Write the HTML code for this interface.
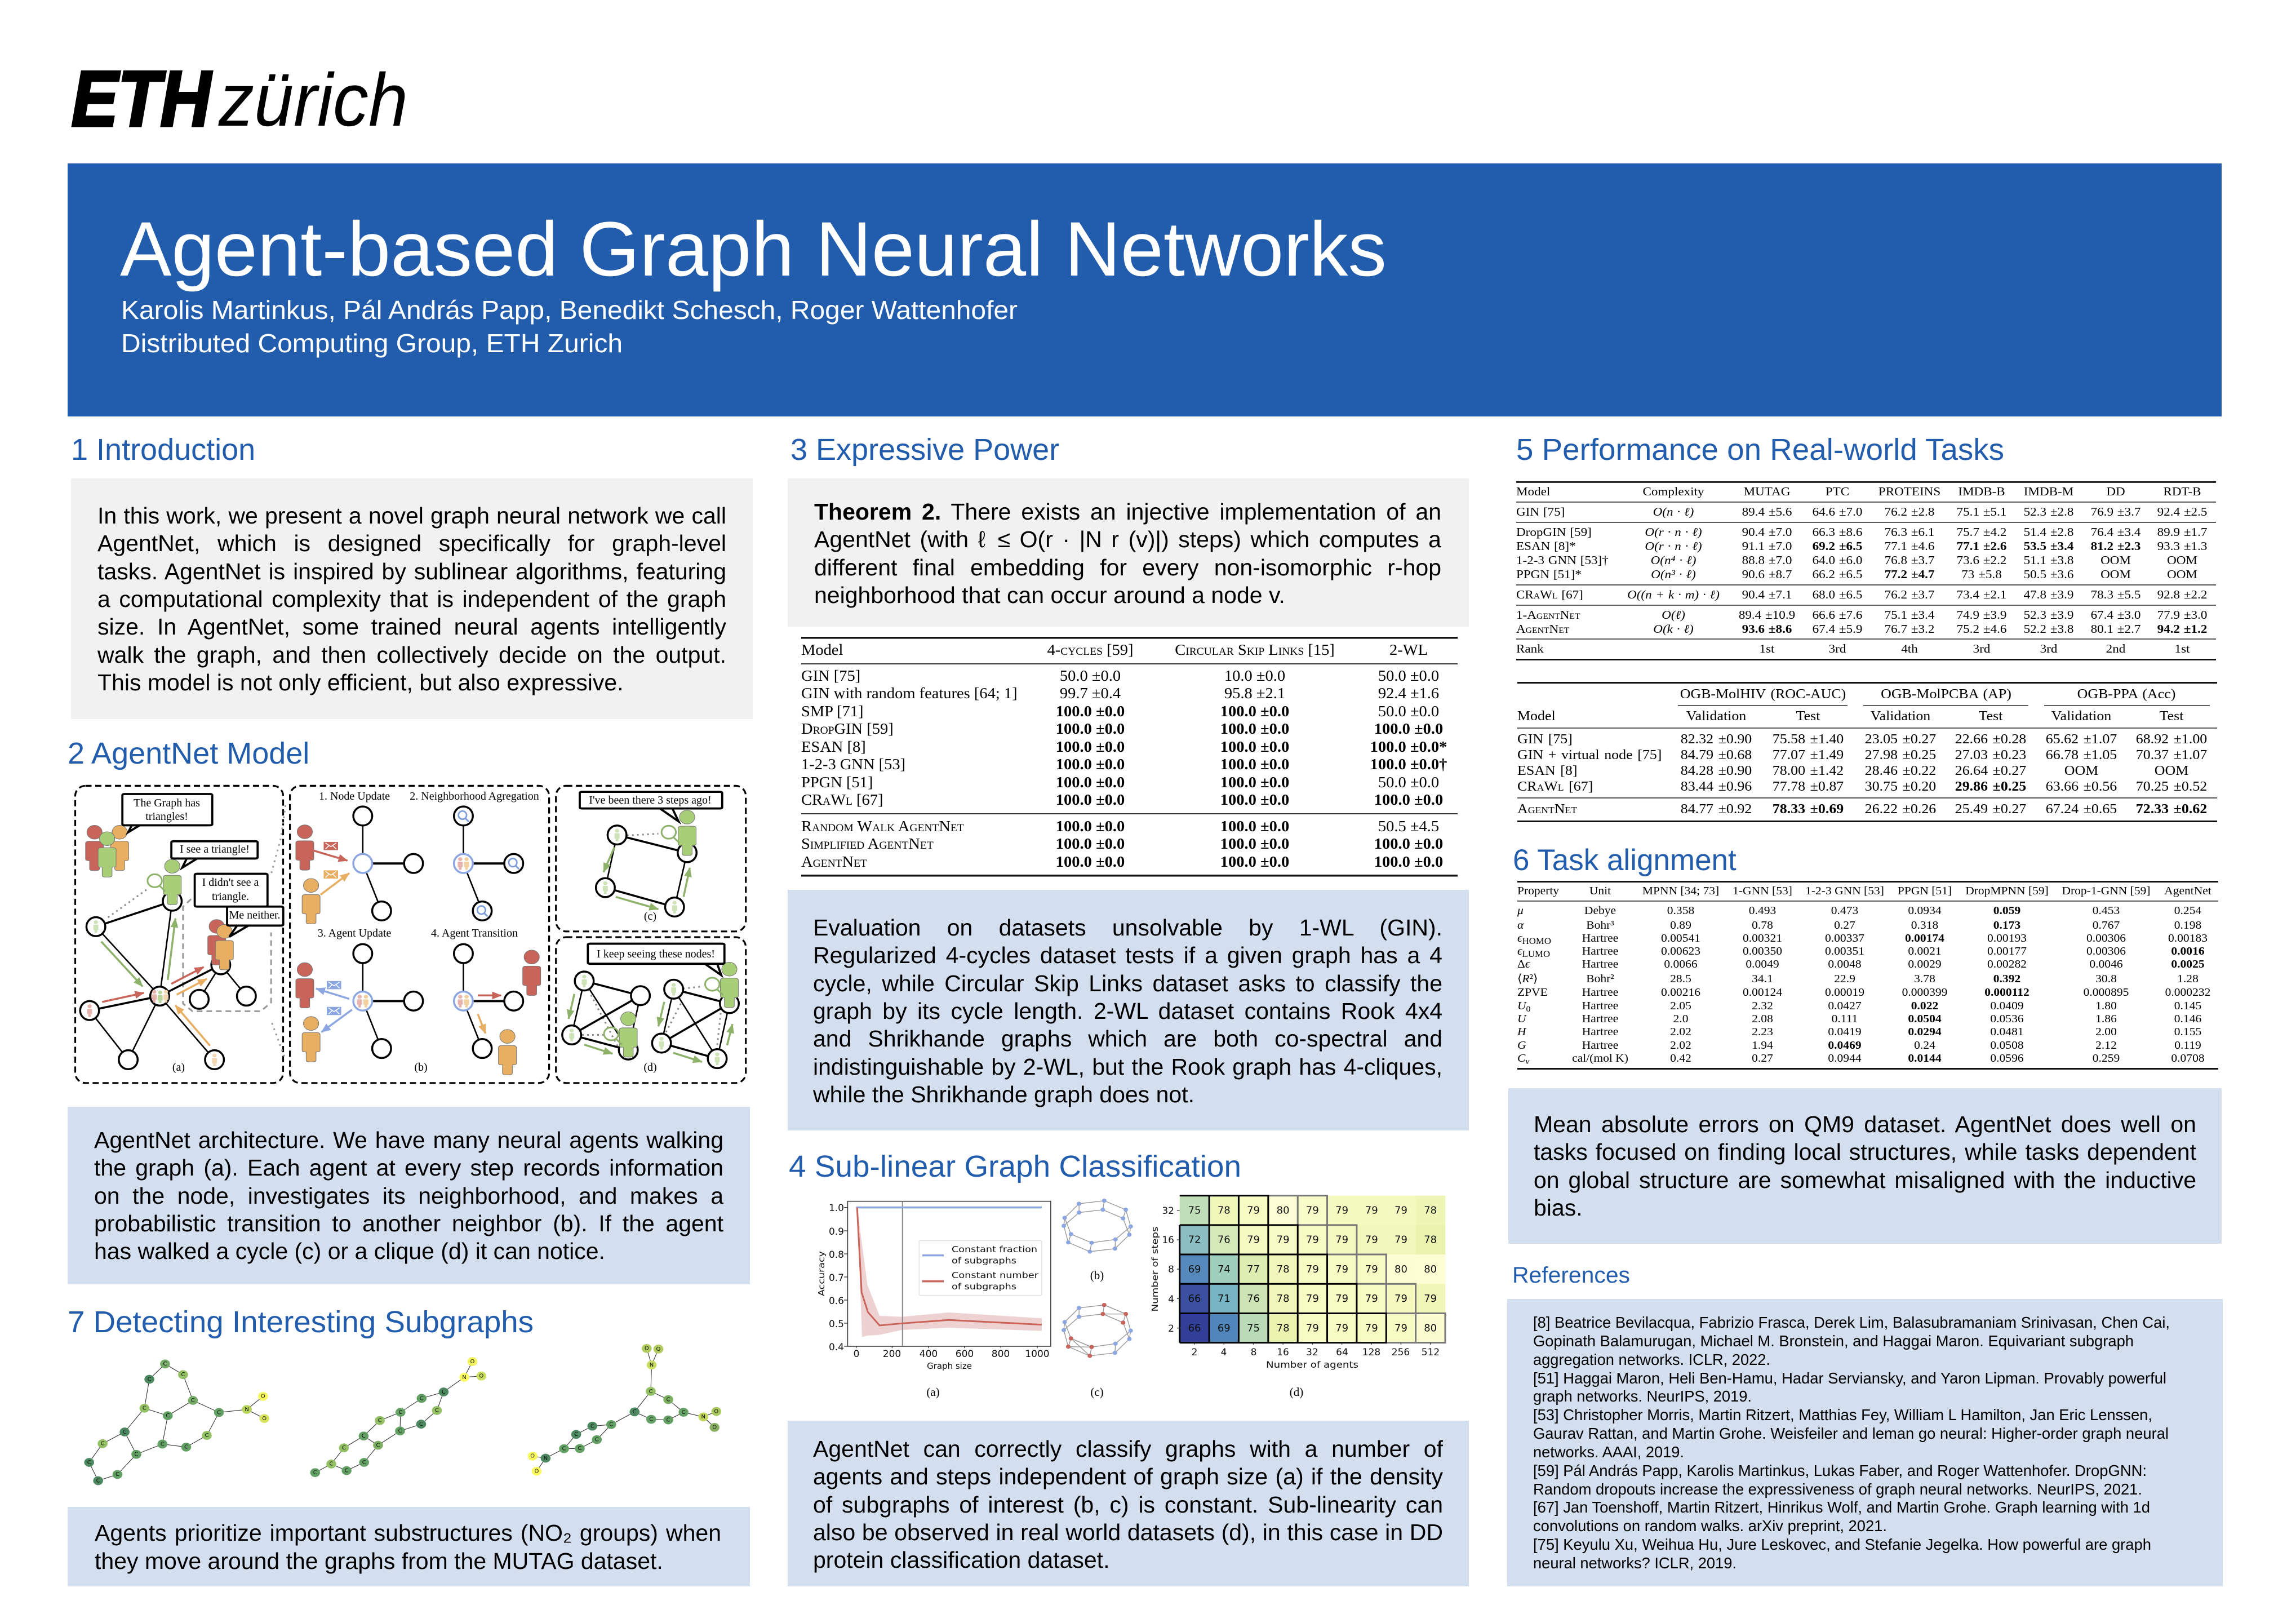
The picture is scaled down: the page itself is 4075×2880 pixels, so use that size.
<!DOCTYPE html>
<html><head><meta charset="utf-8"><title>Agent-based Graph Neural Networks</title>
<style>
html,body{margin:0;padding:0;background:#fff}
#p0{position:relative;width:4075px;height:2880px;overflow:hidden;background:#fff;font-family:"Liberation Sans",sans-serif}
.b{position:absolute}
.j{position:absolute;font-size:41px;line-height:50px;height:50px;text-align:justify;text-align-last:justify;color:#000}
.n{text-align-last:left}
svg{position:absolute;left:0;top:0}
svg *{vector-effect:non-scaling-stroke}
.h{font-family:"Liberation Sans",sans-serif;font-size:54px;fill:#225cad}
.t text{font-family:"Liberation Serif",serif;fill:#000}
.t .sc{font-variant:small-caps}
.t .bd{font-weight:bold}
.t .i{font-style:italic}
.f text{font-family:"Liberation Serif",serif;font-size:20px;fill:#000;text-anchor:middle}
.m text{font-family:"DejaVu Sans",sans-serif;font-size:10px;fill:#111;text-anchor:middle;transform-box:fill-box;transform-origin:center;transform:scale(1.254,2.8)}
.hm text{font-family:"DejaVu Sans",sans-serif;font-size:18px;fill:#111;text-anchor:middle;transform-box:fill-box;transform-origin:center;transform:scale(1.254,3)}
.pl text{font-family:"DejaVu Sans",sans-serif;font-size:17px;fill:#111}
.cap text{font-family:"Liberation Serif",serif;font-size:21px;text-anchor:middle;fill:#000}
</style></head><body><div id="p0">
<div class="b" style="left:120px;top:290px;width:3823px;height:449px;background:#225cad"></div>
<div class="b" style="left:126px;top:849px;width:1210px;height:427px;background:#f1f1f1"></div>
<div class="b" style="left:120px;top:1964px;width:1211px;height:315px;background:#d3deef"></div>
<div class="b" style="left:120px;top:2674px;width:1211px;height:141px;background:#d3deef"></div>
<div class="b" style="left:1398px;top:849px;width:1209px;height:263px;background:#f1f1f1"></div>
<div class="b" style="left:1398px;top:1579px;width:1209px;height:427px;background:#d3deef"></div>
<div class="b" style="left:1398px;top:2521px;width:1209px;height:294px;background:#d3deef"></div>
<div class="b" style="left:2677px;top:1931px;width:1266px;height:276px;background:#d3deef"></div>
<div class="b" style="left:2675px;top:2305px;width:1270px;height:510px;background:#d3deef"></div>

<div class="j" style="left:173px;top:890px;width:1116px">In this work, we present a novel graph neural network we call</div>
<div class="j" style="left:173px;top:939px;width:1116px">AgentNet, which is designed specifically for graph-level</div>
<div class="j" style="left:173px;top:989px;width:1116px">tasks. AgentNet is inspired by sublinear algorithms, featuring</div>
<div class="j" style="left:173px;top:1038px;width:1116px">a computational complexity that is independent of the graph</div>
<div class="j" style="left:173px;top:1087px;width:1116px">size. In AgentNet, some trained neural agents intelligently</div>
<div class="j" style="left:173px;top:1137px;width:1116px">walk the graph, and then collectively decide on the output.</div>
<div class="j n" style="left:173px;top:1186px;width:1116px">This model is not only efficient, but also expressive.</div>

<div class="j" style="left:167px;top:1998px;width:1117px">AgentNet architecture. We have many neural agents walking</div>
<div class="j" style="left:167px;top:2047px;width:1117px">the graph (a). Each agent at every step records information</div>
<div class="j" style="left:167px;top:2097px;width:1117px">on the node, investigates its neighborhood, and makes a</div>
<div class="j" style="left:167px;top:2146px;width:1117px">probabilistic transition to another neighbor (b). If the agent</div>
<div class="j n" style="left:167px;top:2195px;width:1117px">has walked a cycle (c) or a clique (d) it can notice.</div>

<div class="j" style="left:168px;top:2695px;width:1112px">Agents prioritize important substructures (NO₂ groups) when</div>
<div class="j n" style="left:168px;top:2745px;width:1112px">they move around the graphs from the MUTAG dataset.</div>

<div class="j" style="left:1445px;top:883px;width:1113px"><b>Theorem 2.</b> There exists an injective implementation of an</div>
<div class="j" style="left:1445px;top:932px;width:1113px">AgentNet (with ℓ ≤ O(r · |N r (v)|) steps) which computes a</div>
<div class="j" style="left:1445px;top:982px;width:1113px">different final embedding for every non-isomorphic r-hop</div>
<div class="j n" style="left:1445px;top:1031px;width:1113px">neighborhood that can occur around a node v.</div>

<div class="j" style="left:1443px;top:1621px;width:1117px">Evaluation on datasets unsolvable by 1-WL (GIN).</div>
<div class="j" style="left:1443px;top:1670px;width:1117px">Regularized 4-cycles dataset tests if a given graph has a 4</div>
<div class="j" style="left:1443px;top:1720px;width:1117px">cycle, while Circular Skip Links dataset asks to classify the</div>
<div class="j" style="left:1443px;top:1769px;width:1117px">graph by its cycle length. 2-WL dataset contains Rook 4x4</div>
<div class="j" style="left:1443px;top:1818px;width:1117px">and Shrikhande graphs which are both co-spectral and</div>
<div class="j" style="left:1443px;top:1868px;width:1117px">indistinguishable by 2-WL, but the Rook graph has 4-cliques,</div>
<div class="j n" style="left:1443px;top:1917px;width:1117px">while the Shrikhande graph does not.</div>

<div class="j" style="left:1443px;top:2546px;width:1118px">AgentNet can correctly classify graphs with a number of</div>
<div class="j" style="left:1443px;top:2595px;width:1118px">agents and steps independent of graph size (a) if the density</div>
<div class="j" style="left:1443px;top:2645px;width:1118px">of subgraphs of interest (b, c) is constant. Sub-linearity can</div>
<div class="j" style="left:1443px;top:2694px;width:1118px">also be observed in real world datasets (d), in this case in DD</div>
<div class="j n" style="left:1443px;top:2743px;width:1118px">protein classification dataset.</div>

<div class="j" style="left:2722px;top:1970px;width:1176px">Mean absolute errors on QM9 dataset. AgentNet does well on</div>
<div class="j" style="left:2722px;top:2019px;width:1176px">tasks focused on finding local structures, while tasks dependent</div>
<div class="j" style="left:2722px;top:2069px;width:1176px">on global structure are somewhat misaligned with the inductive</div>
<div class="j n" style="left:2722px;top:2118px;width:1176px">bias.</div>

<svg width="4075" height="2880" viewBox="0 0 4075 2880" xmlns="http://www.w3.org/2000/svg">
<defs>
<marker id="aG" markerUnits="userSpaceOnUse" markerWidth="18" markerHeight="16" refX="16" refY="8" orient="auto"><path d="M0 1L17 8L0 15Z" fill="#8fb26a"/></marker>
<marker id="aR" markerUnits="userSpaceOnUse" markerWidth="18" markerHeight="16" refX="16" refY="8" orient="auto"><path d="M0 1L17 8L0 15Z" fill="#c9645a"/></marker>
<marker id="aO" markerUnits="userSpaceOnUse" markerWidth="18" markerHeight="16" refX="16" refY="8" orient="auto"><path d="M0 1L17 8L0 15Z" fill="#e8ae62"/></marker>
<marker id="aB" markerUnits="userSpaceOnUse" markerWidth="18" markerHeight="16" refX="16" refY="8" orient="auto"><path d="M0 1L17 8L0 15Z" fill="#8ba6e0"/></marker>
<ellipse id="n" rx="21" ry="44" fill="#fff" stroke="#000" stroke-width="3.5"/>
<ellipse id="nb" rx="21" ry="44" fill="#fff" stroke="#8ba6e0" stroke-width="3.5"/>
<g id="p"><ellipse cx="0" cy="0" rx="17" ry="32"/><path d="M-20 52Q-20 42-12 42L12 42Q20 42 20 52L20 125Q20 132 13 132L11 132L11 170Q11 178 4 178L-4 178Q-11 178-11 170L-11 132L-13 132Q-20 132-20 125Z"/></g>
<g id="e"><rect width="32" height="38" fill="currentColor"/><path d="M4 5L16 22L28 5M4 33L12 17M28 33L20 17" stroke="#fff" stroke-width="1.5" fill="none"/></g>
<g id="g"><ellipse rx="9" ry="19" fill="none" stroke="#7f9fdc" stroke-width="2.8"/><path d="M6 14L14 30" stroke="#7f9fdc" stroke-width="3"/></g>
<g id="mg"><ellipse rx="16" ry="30" fill="none" stroke="#8fb26a" stroke-width="3"/><path d="M11 24L24 50" stroke="#8fb26a" stroke-width="3"/></g>
<g id="ring" fill="none" stroke="#999" stroke-width="1.4"><path d="M646 168L702 152L750 200L761 289L727 358L674 376L628 330L614 243ZM646 215L699 200L744 246L758 333L726 407L670 423L622 374L612 286ZM646 168L646 215M702 152L699 200M750 200L744 246M761 289L758 333M727 358L726 407M674 376L670 423M628 330L622 374M614 243L612 286"/><g fill="#8ba6e0" stroke="none"><ellipse cx="646" cy="168" rx="5" ry="11"/><ellipse cx="702" cy="152" rx="5" ry="11"/><ellipse cx="750" cy="200" rx="5" ry="11"/><ellipse cx="761" cy="289" rx="5" ry="11"/><ellipse cx="727" cy="358" rx="5" ry="11"/><ellipse cx="674" cy="376" rx="5" ry="11"/><ellipse cx="628" cy="330" rx="5" ry="11"/><ellipse cx="614" cy="243" rx="5" ry="11"/><ellipse cx="646" cy="215" rx="5" ry="11"/><ellipse cx="699" cy="200" rx="5" ry="11"/><ellipse cx="744" cy="246" rx="5" ry="11"/><ellipse cx="758" cy="333" rx="5" ry="11"/><ellipse cx="726" cy="407" rx="5" ry="11"/><ellipse cx="670" cy="423" rx="5" ry="11"/><ellipse cx="622" cy="374" rx="5" ry="11"/><ellipse cx="612" cy="286" rx="5" ry="11"/></g></g>
</defs>

<!-- logo -->
<text x="127" y="223" font-family="Liberation Sans" font-weight="bold" font-style="italic" font-size="139" textLength="247" lengthAdjust="spacingAndGlyphs" fill="#000" stroke="#000" stroke-width="5">ETH</text>
<text x="388" y="223" font-family="Liberation Sans" font-style="italic" font-size="133" textLength="336" lengthAdjust="spacingAndGlyphs" fill="#000">zürich</text>

<!-- banner -->
<text x="213" y="489" font-family="Liberation Sans" font-size="137" fill="#fff" textLength="2248" lengthAdjust="spacingAndGlyphs">Agent-based Graph Neural Networks</text>
<text x="215" y="566" font-family="Liberation Sans" font-size="46" fill="#fff" textLength="1591" lengthAdjust="spacingAndGlyphs">Karolis Martinkus, Pál András Papp, Benedikt Schesch, Roger Wattenhofer</text>
<text x="215" y="625" font-family="Liberation Sans" font-size="46" fill="#fff" textLength="890" lengthAdjust="spacingAndGlyphs">Distributed Computing Group, ETH Zurich</text>

<!-- headings -->
<text class="h" x="126" y="816">1 Introduction</text>
<text class="h" x="120" y="1355">2 AgentNet Model</text>
<text class="h" x="120" y="2364" textLength="827" lengthAdjust="spacingAndGlyphs">7 Detecting Interesting Subgraphs</text>
<text class="h" x="1403" y="816">3 Expressive Power</text>
<text class="h" x="1400" y="2088" textLength="803" lengthAdjust="spacingAndGlyphs">4 Sub-linear Graph Classification</text>
<text class="h" x="2691" y="816" textLength="866" lengthAdjust="spacingAndGlyphs">5 Performance on Real-world Tasks</text>
<text class="h" x="2685" y="1544" style="font-size:53px">6 Task alignment</text>
<text x="2684" y="2276" font-family="Liberation Sans" font-size="40" fill="#225cad" textLength="209" lengthAdjust="spacingAndGlyphs">References</text>

<!-- references -->
<g font-family="Liberation Sans" font-size="27.4" fill="#000">
<text x="2721" y="2356" textLength="1130" lengthAdjust="spacingAndGlyphs">[8] Beatrice Bevilacqua, Fabrizio Frasca, Derek Lim, Balasubramaniam Srinivasan, Chen Cai,</text>
<text x="2721" y="2389" textLength="1066" lengthAdjust="spacingAndGlyphs">Gopinath Balamurugan, Michael M. Bronstein, and Haggai Maron. Equivariant subgraph</text>
<text x="2721" y="2422" textLength="421" lengthAdjust="spacingAndGlyphs">aggregation networks. ICLR, 2022.</text>
<text x="2721" y="2455" textLength="1124" lengthAdjust="spacingAndGlyphs">[51] Haggai Maron, Heli Ben-Hamu, Hadar Serviansky, and Yaron Lipman. Provably powerful</text>
<text x="2721" y="2487" textLength="388" lengthAdjust="spacingAndGlyphs">graph networks. NeurIPS, 2019.</text>
<text x="2721" y="2520" textLength="1099" lengthAdjust="spacingAndGlyphs">[53] Christopher Morris, Martin Ritzert, Matthias Fey, William L Hamilton, Jan Eric Lenssen,</text>
<text x="2721" y="2553" textLength="1128" lengthAdjust="spacingAndGlyphs">Gaurav Rattan, and Martin Grohe. Weisfeiler and leman go neural: Higher-order graph neural</text>
<text x="2721" y="2586" textLength="268" lengthAdjust="spacingAndGlyphs">networks. AAAI, 2019.</text>
<text x="2721" y="2619" textLength="1089" lengthAdjust="spacingAndGlyphs">[59] Pál András Papp, Karolis Martinkus, Lukas Faber, and Roger Wattenhofer. DropGNN:</text>
<text x="2721" y="2652" textLength="1081" lengthAdjust="spacingAndGlyphs">Random dropouts increase the expressiveness of graph neural networks. NeurIPS, 2021.</text>
<text x="2721" y="2684" textLength="1095" lengthAdjust="spacingAndGlyphs">[67] Jan Toenshoff, Martin Ritzert, Hinrikus Wolf, and Martin Grohe. Graph learning with 1d</text>
<text x="2721" y="2717" textLength="628" lengthAdjust="spacingAndGlyphs">convolutions on random walks. arXiv preprint, 2021.</text>
<text x="2721" y="2750" textLength="1097" lengthAdjust="spacingAndGlyphs">[75] Keyulu Xu, Weihua Hu, Jure Leskovec, and Stefanie Jegelka. How powerful are graph</text>
<text x="2721" y="2783" textLength="361" lengthAdjust="spacingAndGlyphs">neural networks? ICLR, 2019.</text>
</g>

<!-- TABLE 1 -->
<g class="t" font-size="27">
<rect x="1422" y="1130" width="1165" height="3.5" fill="#111"/><rect x="1422" y="1177" width="1165" height="2" fill="#333"/><rect x="1422" y="1443" width="1165" height="2" fill="#333"/><rect x="1422" y="1552" width="1165" height="3.5" fill="#111"/>
<g transform="translate(1422,0) scale(1.055,1)">
<text y="1162">Model</text><text y="1208">GIN [75]</text><text y="1239">GIN with random features [64; 1]</text><text y="1271">SMP [71]</text><text y="1302" class="sc">DropGIN [59]</text><text y="1334">ESAN [8]</text><text y="1365">1-2-3 GNN [53]</text><text y="1397">PPGN [51]</text><text y="1428" class="sc">CRaWl [67]</text><text y="1475" class="sc">Random Walk AgentNet</text><text y="1506" class="sc">Simplified AgentNet</text><text y="1538" class="sc">AgentNet</text>
</g>
<g transform="translate(1935,0) scale(1.055,1)" text-anchor="middle">
<text y="1162" class="sc">4-cycles [59]</text><text y="1208">50.0 ±0.0</text><text y="1239">99.7 ±0.4</text><text y="1271" class="bd">100.0 ±0.0</text><text y="1302" class="bd">100.0 ±0.0</text><text y="1334" class="bd">100.0 ±0.0</text><text y="1365" class="bd">100.0 ±0.0</text><text y="1397" class="bd">100.0 ±0.0</text><text y="1428" class="bd">100.0 ±0.0</text><text y="1475" class="bd">100.0 ±0.0</text><text y="1506" class="bd">100.0 ±0.0</text><text y="1538" class="bd">100.0 ±0.0</text>
</g>
<g transform="translate(2227,0) scale(1.055,1)" text-anchor="middle">
<text y="1162" class="sc">Circular Skip Links [15]</text><text y="1208">10.0 ±0.0</text><text y="1239">95.8 ±2.1</text><text y="1271" class="bd">100.0 ±0.0</text><text y="1302" class="bd">100.0 ±0.0</text><text y="1334" class="bd">100.0 ±0.0</text><text y="1365" class="bd">100.0 ±0.0</text><text y="1397" class="bd">100.0 ±0.0</text><text y="1428" class="bd">100.0 ±0.0</text><text y="1475" class="bd">100.0 ±0.0</text><text y="1506" class="bd">100.0 ±0.0</text><text y="1538" class="bd">100.0 ±0.0</text>
</g>
<g transform="translate(2500,0) scale(1.055,1)" text-anchor="middle">
<text y="1162">2-WL</text><text y="1208">50.0 ±0.0</text><text y="1239">92.4 ±1.6</text><text y="1271">50.0 ±0.0</text><text y="1302" class="bd">100.0 ±0.0</text><text y="1334" class="bd">100.0 ±0.0*</text><text y="1365" class="bd">100.0 ±0.0†</text><text y="1397">50.0 ±0.0</text><text y="1428" class="bd">100.0 ±0.0</text><text y="1475">50.5 ±4.5</text><text y="1506" class="bd">100.0 ±0.0</text><text y="1538" class="bd">100.0 ±0.0</text>
</g>
</g>

<!-- TABLE 2 -->
<g class="t" font-size="21" word-spacing="1">
<rect x="2691" y="854" width="1242" height="2.8" fill="#111"/><rect x="2691" y="890" width="1242" height="1.8" fill="#444"/><rect x="2691" y="926" width="1242" height="1.8" fill="#444"/><rect x="2691" y="1037" width="1242" height="1.8" fill="#444"/><rect x="2691" y="1073" width="1242" height="1.8" fill="#444"/><rect x="2691" y="1133" width="1242" height="1.8" fill="#444"/><rect x="2691" y="1169" width="1242" height="2.8" fill="#111"/>
<g transform="translate(2691,0) scale(1.1,1)">
<text y="879">Model</text><text y="915">GIN [75]</text><text y="951">DropGIN [59]</text><text y="976">ESAN [8]*</text><text y="1001">1-2-3 GNN [53]†</text><text y="1026">PPGN [51]*</text><text y="1062" class="sc">CRaWl [67]</text><text y="1098" class="sc">1-AgentNet</text><text y="1123" class="sc">AgentNet</text><text y="1158">Rank</text>
</g>
<g transform="translate(2970,0) scale(1.1,1)" text-anchor="middle">
<text y="879">Complexity</text><text y="915" class="i">O(n · ℓ)</text><text y="951" class="i">O(r · n · ℓ)</text><text y="976" class="i">O(r · n · ℓ)</text><text y="1001" class="i">O(n⁴ · ℓ)</text><text y="1026" class="i">O(n³ · ℓ)</text><text y="1062" class="i">O((n + k · m) · ℓ)</text><text y="1098" class="i">O(ℓ)</text><text y="1123" class="i">O(k · ℓ)</text>
</g>
<g transform="translate(3136,0) scale(1.1,1)" text-anchor="middle">
<text y="879">MUTAG</text><text y="915">89.4 ±5.6</text><text y="951">90.4 ±7.0</text><text y="976">91.1 ±7.0</text><text y="1001">88.8 ±7.0</text><text y="1026">90.6 ±8.7</text><text y="1062">90.4 ±7.1</text><text y="1098">89.4 ±10.9</text><text y="1123" class="bd">93.6 ±8.6</text><text y="1158">1st</text>
</g>
<g transform="translate(3261,0) scale(1.1,1)" text-anchor="middle">
<text y="879">PTC</text><text y="915">64.6 ±7.0</text><text y="951">66.3 ±8.6</text><text y="976" class="bd">69.2 ±6.5</text><text y="1001">64.0 ±6.0</text><text y="1026">66.2 ±6.5</text><text y="1062">68.0 ±6.5</text><text y="1098">66.6 ±7.6</text><text y="1123">67.4 ±5.9</text><text y="1158">3rd</text>
</g>
<g transform="translate(3389,0) scale(1.1,1)" text-anchor="middle">
<text y="879">PROTEINS</text><text y="915">76.2 ±2.8</text><text y="951">76.3 ±6.1</text><text y="976">77.1 ±4.6</text><text y="1001">76.8 ±3.7</text><text y="1026" class="bd">77.2 ±4.7</text><text y="1062">76.2 ±3.7</text><text y="1098">75.1 ±3.4</text><text y="1123">76.7 ±3.2</text><text y="1158">4th</text>
</g>
<g transform="translate(3517,0) scale(1.1,1)" text-anchor="middle">
<text y="879">IMDB-B</text><text y="915">75.1 ±5.1</text><text y="951">75.7 ±4.2</text><text y="976" class="bd">77.1 ±2.6</text><text y="1001">73.6 ±2.2</text><text y="1026">73 ±5.8</text><text y="1062">73.4 ±2.1</text><text y="1098">74.9 ±3.9</text><text y="1123">75.2 ±4.6</text><text y="1158">3rd</text>
</g>
<g transform="translate(3636,0) scale(1.1,1)" text-anchor="middle">
<text y="879">IMDB-M</text><text y="915">52.3 ±2.8</text><text y="951">51.4 ±2.8</text><text y="976" class="bd">53.5 ±3.4</text><text y="1001">51.1 ±3.8</text><text y="1026">50.5 ±3.6</text><text y="1062">47.8 ±3.9</text><text y="1098">52.3 ±3.9</text><text y="1123">52.2 ±3.8</text><text y="1158">3rd</text>
</g>
<g transform="translate(3755,0) scale(1.1,1)" text-anchor="middle">
<text y="879">DD</text><text y="915">76.9 ±3.7</text><text y="951">76.4 ±3.4</text><text y="976" class="bd">81.2 ±2.3</text><text y="1001">OOM</text><text y="1026">OOM</text><text y="1062">78.3 ±5.5</text><text y="1098">67.4 ±3.0</text><text y="1123">80.1 ±2.7</text><text y="1158">2nd</text>
</g>
<g transform="translate(3873,0) scale(1.1,1)" text-anchor="middle">
<text y="879">RDT-B</text><text y="915">92.4 ±2.5</text><text y="951">89.9 ±1.7</text><text y="976">93.3 ±1.3</text><text y="1001">OOM</text><text y="1026">OOM</text><text y="1062">92.8 ±2.2</text><text y="1098">77.9 ±3.0</text><text y="1123" class="bd">94.2 ±1.2</text><text y="1158">1st</text>
</g>
</g>

<!-- TABLE 3 -->
<g class="t" font-size="24" word-spacing="2">
<rect x="2693" y="1210" width="1242" height="3" fill="#111"/><rect x="2978" y="1251" width="301" height="1.8" fill="#555"/><rect x="3307" y="1251" width="293" height="1.8" fill="#555"/><rect x="3628" y="1251" width="294" height="1.8" fill="#555"/><rect x="2693" y="1291" width="1242" height="1.8" fill="#444"/><rect x="2693" y="1415" width="1242" height="1.8" fill="#444"/><rect x="2693" y="1456" width="1242" height="3" fill="#111"/>
<g transform="translate(2693,0) scale(1.08,1)">
<text y="1278">Model</text><text y="1319">GIN [75]</text><text y="1347">GIN + virtual node [75]</text><text y="1375">ESAN [8]</text><text y="1403" class="sc">CRaWl [67]</text><text y="1443" class="sc">AgentNet</text>
</g>
<g transform="translate(3129,0) scale(1.08,1)" text-anchor="middle"><text y="1239">OGB-MolHIV (ROC-AUC)</text></g>
<g transform="translate(3454,0) scale(1.08,1)" text-anchor="middle"><text y="1239">OGB-MolPCBA (AP)</text></g>
<g transform="translate(3774,0) scale(1.08,1)" text-anchor="middle"><text y="1239">OGB-PPA (Acc)</text></g>
<g transform="translate(3046,0) scale(1.08,1)" text-anchor="middle"><text y="1278">Validation</text><text y="1319">82.32 ±0.90</text><text y="1347">84.79 ±0.68</text><text y="1375">84.28 ±0.90</text><text y="1403">83.44 ±0.96</text><text y="1443">84.77 ±0.92</text></g>
<g transform="translate(3209,0) scale(1.08,1)" text-anchor="middle"><text y="1278">Test</text><text y="1319">75.58 ±1.40</text><text y="1347">77.07 ±1.49</text><text y="1375">78.00 ±1.42</text><text y="1403">77.78 ±0.87</text><text y="1443" class="bd">78.33 ±0.69</text></g>
<g transform="translate(3373,0) scale(1.08,1)" text-anchor="middle"><text y="1278">Validation</text><text y="1319">23.05 ±0.27</text><text y="1347">27.98 ±0.25</text><text y="1375">28.46 ±0.22</text><text y="1403">30.75 ±0.20</text><text y="1443">26.22 ±0.26</text></g>
<g transform="translate(3533,0) scale(1.08,1)" text-anchor="middle"><text y="1278">Test</text><text y="1319">22.66 ±0.28</text><text y="1347">27.03 ±0.23</text><text y="1375">26.64 ±0.27</text><text y="1403" class="bd">29.86 ±0.25</text><text y="1443">25.49 ±0.27</text></g>
<g transform="translate(3694,0) scale(1.08,1)" text-anchor="middle"><text y="1278">Validation</text><text y="1319">65.62 ±1.07</text><text y="1347">66.78 ±1.05</text><text y="1375">OOM</text><text y="1403">63.66 ±0.56</text><text y="1443">67.24 ±0.65</text></g>
<g transform="translate(3854,0) scale(1.08,1)" text-anchor="middle"><text y="1278">Test</text><text y="1319">68.92 ±1.00</text><text y="1347">70.37 ±1.07</text><text y="1375">OOM</text><text y="1403">70.25 ±0.52</text><text y="1443" class="bd">72.33 ±0.62</text></g>
</g>

<!-- TABLE 4 -->
<g class="t" font-size="20.5">
<rect x="2693" y="1563" width="1244" height="3" fill="#111"/><rect x="2693" y="1598" width="1244" height="1.8" fill="#444"/><rect x="2693" y="1895" width="1244" height="3" fill="#111"/>
<g transform="translate(2693,0) scale(1.05,1)">
<text y="1587">Property</text><text y="1622" class="i">μ</text><text y="1648" class="i">α</text><text y="1671"><tspan class="i">ϵ</tspan><tspan dy="4" font-size="16">HOMO</tspan></text><text y="1694"><tspan class="i">ϵ</tspan><tspan dy="4" font-size="16">LUMO</tspan></text><text y="1717">Δ<tspan class="i">ϵ</tspan></text><text y="1743">⟨<tspan class="i">R</tspan>²⟩</text><text y="1767">ZPVE</text><text y="1791"><tspan class="i">U</tspan><tspan dy="4" font-size="15">0</tspan></text><text y="1814" class="i">U</text><text y="1837" class="i">H</text><text y="1861" class="i">G</text><text y="1884"><tspan class="i">C</tspan><tspan dy="4" font-size="15" class="i">v</tspan></text>
</g>
<g transform="translate(2840,0) scale(1.05,1)" text-anchor="middle"><text y="1587">Unit</text><text y="1622">Debye</text><text y="1648">Bohr³</text><text y="1671">Hartree</text><text y="1694">Hartree</text><text y="1717">Hartree</text><text y="1743">Bohr²</text><text y="1767">Hartree</text><text y="1791">Hartree</text><text y="1814">Hartree</text><text y="1837">Hartree</text><text y="1861">Hartree</text><text y="1884">cal/(mol K)</text></g>
<g transform="translate(2983,0) scale(1.05,1)" text-anchor="middle"><text y="1587">MPNN [34; 73]</text><text y="1622">0.358</text><text y="1648">0.89</text><text y="1671">0.00541</text><text y="1694">0.00623</text><text y="1717">0.0066</text><text y="1743">28.5</text><text y="1767">0.00216</text><text y="1791">2.05</text><text y="1814">2.0</text><text y="1837">2.02</text><text y="1861">2.02</text><text y="1884">0.42</text></g>
<g transform="translate(3128,0) scale(1.05,1)" text-anchor="middle"><text y="1587">1-GNN [53]</text><text y="1622">0.493</text><text y="1648">0.78</text><text y="1671">0.00321</text><text y="1694">0.00350</text><text y="1717">0.0049</text><text y="1743">34.1</text><text y="1767">0.00124</text><text y="1791">2.32</text><text y="1814">2.08</text><text y="1837">2.23</text><text y="1861">1.94</text><text y="1884">0.27</text></g>
<g transform="translate(3274,0) scale(1.05,1)" text-anchor="middle"><text y="1587">1-2-3 GNN [53]</text><text y="1622">0.473</text><text y="1648">0.27</text><text y="1671">0.00337</text><text y="1694">0.00351</text><text y="1717">0.0048</text><text y="1743">22.9</text><text y="1767">0.00019</text><text y="1791">0.0427</text><text y="1814">0.111</text><text y="1837">0.0419</text><text y="1861" class="bd">0.0469</text><text y="1884">0.0944</text></g>
<g transform="translate(3416,0) scale(1.05,1)" text-anchor="middle"><text y="1587">PPGN [51]</text><text y="1622">0.0934</text><text y="1648">0.318</text><text y="1671" class="bd">0.00174</text><text y="1694">0.0021</text><text y="1717">0.0029</text><text y="1743">3.78</text><text y="1767">0.000399</text><text y="1791" class="bd">0.022</text><text y="1814" class="bd">0.0504</text><text y="1837" class="bd">0.0294</text><text y="1861">0.24</text><text y="1884" class="bd">0.0144</text></g>
<g transform="translate(3562,0) scale(1.05,1)" text-anchor="middle"><text y="1587">DropMPNN [59]</text><text y="1622" class="bd">0.059</text><text y="1648" class="bd">0.173</text><text y="1671">0.00193</text><text y="1694">0.00177</text><text y="1717">0.00282</text><text y="1743" class="bd">0.392</text><text y="1767" class="bd">0.000112</text><text y="1791">0.0409</text><text y="1814">0.0536</text><text y="1837">0.0481</text><text y="1861">0.0508</text><text y="1884">0.0596</text></g>
<g transform="translate(3738,0) scale(1.05,1)" text-anchor="middle"><text y="1587">Drop-1-GNN [59]</text><text y="1622">0.453</text><text y="1648">0.767</text><text y="1671">0.00306</text><text y="1694">0.00306</text><text y="1717">0.0046</text><text y="1743">30.8</text><text y="1767">0.000895</text><text y="1791">1.80</text><text y="1814">1.86</text><text y="1837">2.00</text><text y="1861">2.12</text><text y="1884">0.259</text></g>
<g transform="translate(3883,0) scale(1.05,1)" text-anchor="middle"><text y="1587">AgentNet</text><text y="1622">0.254</text><text y="1648">0.198</text><text y="1671">0.00183</text><text y="1694" class="bd">0.0016</text><text y="1717" class="bd">0.0025</text><text y="1743">1.28</text><text y="1767">0.000232</text><text y="1791">0.145</text><text y="1814">0.146</text><text y="1837">0.155</text><text y="1861">0.119</text><text y="1884">0.0708</text></g>
</g>

<!-- AGENTNET FIGURE panels -->
<g fill="none" stroke="#000" stroke-width="3.2" stroke-dasharray="11 6.5">
<rect x="133.5" y="1394.4" width="369" height="527.4" rx="18"/>
<rect x="514.6" y="1394.4" width="460" height="527.4" rx="18"/>
<rect x="986.7" y="1394.4" width="337" height="258.4" rx="18"/>
<rect x="986.7" y="1663" width="337" height="258.8" rx="18"/>
</g>

<g transform="translate(100,1360) scale(0.7974,0.3827)">
<!-- guides -->
<g fill="none" stroke="#999" stroke-width="3">
<path d="M510 180L500 330L478 500" stroke-dasharray="3 7"/><path d="M480 1190L510 1360" stroke-dasharray="3 7"/>
<path d="M300 615L282 650L282 1100L303 1135L455 1135L478 1095L478 770" stroke-dasharray="10 7"/>
<path d="M115 700L205 565" stroke-dasharray="3 6" stroke="#888"/>
<path d="M1270 320L1340 312M1170 1245L1220 1245M1395 1030L1440 1020M1190 1060L1250 1300M1390 1100L1350 1260M1480 1120L1470 1310" stroke-dasharray="3 6" stroke="#888"/>
</g>
<!-- panel a edges -->
<g stroke="#000" stroke-width="2.6" fill="none">
<path d="M88 743L230 1065M258 625L230 1065M74 1132L160 1360M160 1360L230 1065M230 1065L352 1360M366 920L318 1080M366 920L423 1065"/>
<path d="M88 743L258 625M230 1065L74 1132M230 1065L366 920" stroke-width="3.6"/>
</g>
<use href="#n" x="88" y="743"/><use href="#n" x="258" y="625"/><use href="#n" x="230" y="1065"/><use href="#n" x="74" y="1132"/><use href="#n" x="160" y="1360"/><use href="#n" x="352" y="1360"/><use href="#n" x="366" y="920"/><use href="#n" x="318" y="1080"/><use href="#n" x="423" y="1065"/>
<g stroke="none">
<use href="#p" transform="translate(88,722) scale(.28)" fill="#cfe3b8"/>
<use href="#p" transform="translate(74,1112) scale(.28)" fill="#e8b5ae"/>
<use href="#p" transform="translate(352,1340) scale(.28)" fill="#f3d9b3"/>
<use href="#p" transform="translate(218,1045) scale(.28)" fill="#e8b5ae"/><use href="#p" transform="translate(244,1045) scale(.28)" fill="#f3d9b3"/><use href="#p" transform="translate(231,1048) scale(.28)" fill="#b9d79a"/>
</g>
<!-- people a -->
<g stroke="#777" stroke-width="1">
<use href="#p" x="85" y="305" fill="#c9645a"/><use href="#p" x="141" y="305" fill="#e8ae62"/><use href="#p" x="113" y="335" fill="#a8cf78"/>
<use href="#p" x="258" y="463" fill="#a8cf78"/><use href="#p" x="357" y="742" fill="#c9645a"/><use href="#p" x="374" y="765" fill="#e8ae62"/>
</g>
<use href="#mg" x="219" y="530"/>
<!-- bubbles a -->
<g fill="#fff" stroke="#000" stroke-width="3.8">
<path d="M170 265L160 305L188 270Z"/><rect x="147" y="128" width="200" height="145" rx="5"/>
<path d="M292 420L280 470L315 425Z"/><rect x="256" y="347" width="192" height="80" rx="5"/>
<rect x="308" y="498" width="162" height="152" rx="5"/>
<path d="M405 730L385 790L430 735Z"/><rect x="380" y="650" width="125" height="88" rx="5"/>
</g>
<!-- panel b -->
<g stroke="#000" stroke-width="2.6" fill="none">
<path d="M682 230L682 450M682 450L724 670M906 230L906 450M906 450L948 670M682 868L682 1088M682 1088L724 1308M906 868L906 1088M906 1088L948 1308"/>
<path d="M682 450L795 450M906 450L1018 450M682 1088L795 1088M906 1088L1018 1088" stroke-width="4"/>
</g>
<use href="#n" x="682" y="230"/><use href="#n" x="795" y="450"/><use href="#n" x="724" y="670"/><use href="#nb" x="682" y="450"/>
<use href="#n" x="906" y="230"/><use href="#n" x="1018" y="450"/><use href="#n" x="948" y="670"/><use href="#nb" x="906" y="450"/>
<use href="#n" x="682" y="868"/><use href="#n" x="795" y="1088"/><use href="#n" x="724" y="1308"/><use href="#nb" x="682" y="1088"/>
<use href="#n" x="906" y="868"/><use href="#n" x="1018" y="1088"/><use href="#n" x="948" y="1308"/><use href="#nb" x="906" y="1088"/>
<use href="#g" x="904" y="226"/><use href="#g" x="1016" y="446"/><use href="#g" x="946" y="666"/>
<g stroke="none">
<use href="#p" transform="translate(899,430) scale(.28)" fill="#e8b5ae"/><use href="#p" transform="translate(913,430) scale(.28)" fill="#f3d0a0"/>
<use href="#p" transform="translate(675,1068) scale(.28)" fill="#e8b5ae"/><use href="#p" transform="translate(689,1068) scale(.28)" fill="#f3d0a0"/>
<use href="#p" transform="translate(899,1068) scale(.28)" fill="#e8b5ae"/><use href="#p" transform="translate(913,1068) scale(.28)" fill="#f3d0a0"/>
</g>
<g stroke="#777" stroke-width="1">
<use href="#p" x="553" y="303" fill="#c9645a"/><use href="#p" x="567" y="552" fill="#e8ae62"/>
<use href="#p" x="553" y="942" fill="#c9645a"/><use href="#p" x="567" y="1192" fill="#e8ae62"/>
<use href="#p" x="1058" y="884" fill="#c9645a"/><use href="#p" x="1004" y="1252" fill="#e8ae62"/>
</g>
<use href="#e" x="595" y="350" style="color:#c9645a"/><use href="#e" x="595" y="482" style="color:#e8ae62"/>
<use href="#e" x="602" y="995" style="color:#8ba6e0"/><use href="#e" x="602" y="1115" style="color:#8ba6e0"/>
<!-- panel c -->
<g stroke="#000" stroke-width="2.6" fill="none"><path d="M1248 318L1222 562M1376 652L1404 400"/><path d="M1248 318L1404 400M1222 562L1376 652" stroke-width="3.6"/></g>
<use href="#n" x="1248" y="318"/><use href="#n" x="1404" y="400"/><use href="#n" x="1222" y="562"/><use href="#n" x="1376" y="652"/>
<g stroke="none" fill="#cfe3b8"><use href="#p" transform="translate(1248,298) scale(.28)"/><use href="#p" transform="translate(1222,542) scale(.28)"/><use href="#p" transform="translate(1376,632) scale(.28)"/></g>
<use href="#p" x="1404" y="235" fill="#a8cf78" stroke="#777" stroke-width="1"/><use href="#mg" x="1363" y="305"/>
<g fill="#fff" stroke="#000" stroke-width="3.8"><path d="M1340 190L1385 255L1370 190Z"/><rect x="1165" y="118" width="317" height="77" rx="5"/></g>
<!-- panel d -->
<g stroke="#000" stroke-width="2.6" fill="none">
<path d="M1175 995L1147 1245M1175 995L1273 1315M1300 1063L1273 1315M1374 1033L1347 1283M1374 1033L1471 1355M1498 1100L1471 1355"/>
<path d="M1175 995L1300 1063M1300 1063L1147 1245M1147 1245L1273 1315M1374 1033L1498 1100M1498 1100L1347 1283M1347 1283L1471 1355" stroke-width="3.6"/>
</g>
<use href="#n" x="1175" y="995"/><use href="#n" x="1300" y="1063"/><use href="#n" x="1147" y="1245"/><use href="#n" x="1273" y="1315"/>
<use href="#n" x="1374" y="1033"/><use href="#n" x="1498" y="1100"/><use href="#n" x="1347" y="1283"/><use href="#n" x="1471" y="1355"/>
<g stroke="none" fill="#cfe3b8"><use href="#p" transform="translate(1175,975) scale(.28)"/><use href="#p" transform="translate(1147,1225) scale(.28)"/><use href="#p" transform="translate(1374,1013) scale(.28)"/><use href="#p" transform="translate(1347,1263) scale(.28)"/><use href="#p" transform="translate(1471,1335) scale(.28)"/></g>
<use href="#p" x="1273" y="1170" fill="#a8cf78" stroke="#777" stroke-width="1"/><use href="#mg" x="1235" y="1240"/>
<use href="#p" x="1498" y="940" fill="#a8cf78" stroke="#777" stroke-width="1"/><use href="#mg" x="1460" y="1010"/>
<g fill="#fff" stroke="#000" stroke-width="3.8"><path d="M1440 910L1480 968L1470 910Z"/><rect x="1183" y="822" width="304" height="93" rx="5"/></g>
</g>

<!-- arrows (real coords) -->
<g fill="none" stroke-width="3.5">
<g stroke="#8fb26a">
<line x1="179.7" y1="1670.8" x2="253.1" y2="1750.4" marker-end="url(#aG)"/><line x1="297.8" y1="1738.9" x2="311.3" y2="1629.8" marker-end="url(#aG)"/>
<line x1="1090.4" y1="1503.5" x2="1071.2" y2="1547.5" marker-end="url(#aG)"/><line x1="1092.8" y1="1591.5" x2="1168.5" y2="1613.3" marker-end="url(#aG)"/><line x1="1213.2" y1="1591.5" x2="1224.3" y2="1539.9" marker-end="url(#aG)"/>
<line x1="1019.4" y1="1763.7" x2="1009.1" y2="1807.8" marker-end="url(#aG)"/><line x1="1036.9" y1="1853.7" x2="1087.2" y2="1869.8" marker-end="url(#aG)"/><line x1="1178.9" y1="1777.9" x2="1168.5" y2="1821.2" marker-end="url(#aG)"/><line x1="1194.8" y1="1868.2" x2="1245.9" y2="1884.3" marker-end="url(#aG)"/><line x1="1290.5" y1="1854.8" x2="1300" y2="1817.3" marker-end="url(#aG)"/>
</g>
<g stroke="#c9645a">
<line x1="181.3" y1="1777.9" x2="255.5" y2="1761.8" marker-end="url(#aR)"/><line x1="304.1" y1="1745.8" x2="361.5" y2="1715.9" marker-end="url(#aR)"/><line x1="556.1" y1="1509.2" x2="616.7" y2="1527.2" marker-end="url(#aR)"/><line x1="848" y1="1766.4" x2="889.4" y2="1766.4" marker-end="url(#aR)"/>
</g>
<g stroke="#e8ae62">
<line x1="313.7" y1="1764.9" x2="367.1" y2="1737" marker-end="url(#aO)"/><line x1="372.7" y1="1855.6" x2="311.3" y2="1784" marker-end="url(#aO)"/><line x1="568.9" y1="1587.7" x2="619.9" y2="1549.4" marker-end="url(#aO)"/><line x1="848" y1="1799.3" x2="861.5" y2="1833.8" marker-end="url(#aO)"/>
</g>
<g stroke="#8ba6e0">
<line x1="619.9" y1="1772.5" x2="560.9" y2="1754.2" marker-end="url(#aB)"/><line x1="624.7" y1="1791.7" x2="570.5" y2="1831.5" marker-end="url(#aB)"/>
</g>
</g>

<!-- figure text -->
<g class="f">
<text x="296" y="1431">The Graph has</text><text x="296" y="1455">triangles!</text>
<text x="381" y="1513">I see a triangle!</text>
<text x="409" y="1572">I didn't see a</text><text x="409" y="1597">triangle.</text>
<text x="452" y="1630">Me neither.</text>
<text x="317" y="1900">(a)</text><text x="747" y="1900">(b)</text>
<text x="629" y="1419">1. Node Update</text><text x="842" y="1419">2. Neighborhood Agregation</text>
<text x="629" y="1662">3. Agent Update</text><text x="842" y="1662">4. Agent Transition</text>
<text x="1154" y="1426">I've been there 3 steps ago!</text><text x="1154" y="1632">(c)</text>
<text x="1164" y="1699">I keep seeing these nodes!</text><text x="1154" y="1900">(d)</text>
</g>

<!-- MOLECULES -->
<g class="m" transform="translate(100,2300) scale(0.7974,0.3571)">
<g stroke="#333" stroke-width="1.1" fill="none">
<path d="M242 337L282 390M242 337L207 413M282 390L304 518M207 413L196 557M304 518L248 594M304 518L362 578M196 557L248 594M362 578L424 563M424 563L460 498M424 563L463 608M362 578L335 692M335 692L289 750M289 750L236 735M236 735L248 594M236 735L178 786M196 557L152 675M152 675L178 786M152 675L103 733M103 733L73 826M73 826L93 917M93 917L136 886M136 886L178 786"/>
<path d="M926 325L908 403M946 397L908 403M908 403L862 476M862 476L813 508M862 476L847 568M813 508L766 577M847 568L812 636M766 577L720 618M766 577L765 670M812 636L765 670M720 618L684 695M765 670L716 741M684 695L716 741M684 695L640 754M640 754L612 834M716 741L685 826M685 826L646 867M612 834L646 867M612 834L576 877"/>
<path d="M1314 260L1325 342M1340 263L1325 342M1325 342L1323 473M1323 473L1362 514M1362 514L1396 577M1396 577L1440 600M1440 600L1469 573M1440 600L1465 652M1396 577L1362 615M1362 615L1324 612M1324 612L1287 575M1287 575L1323 473M1287 575L1235 638M1235 638L1193 646M1193 646L1157 687M1157 687L1130 758M1130 758L1165 757M1165 757L1203 713M1203 713L1235 638M1130 758L1089 805M1089 805L1060 795M1089 805L1069 870"/>
</g>
<g>
<ellipse cx="242" cy="337" rx="11" ry="22" fill="#74aa66"/><text x="242" y="340.5">C</text>
<ellipse cx="282" cy="390" rx="11" ry="22" fill="#92c063"/><text x="282" y="393.5">C</text>
<ellipse cx="207" cy="413" rx="11" ry="22" fill="#4c8860"/><text x="207" y="416.5">C</text>
<ellipse cx="304" cy="518" rx="11" ry="22" fill="#74aa66"/><text x="304" y="521.5">C</text>
<ellipse cx="196" cy="557" rx="11" ry="22" fill="#92c063"/><text x="196" y="560.5">C</text>
<ellipse cx="248" cy="594" rx="11" ry="22" fill="#62a064"/><text x="248" y="597.5">C</text>
<ellipse cx="362" cy="578" rx="11" ry="22" fill="#62a064"/><text x="362" y="581.5">C</text>
<ellipse cx="424" cy="563" rx="11" ry="22" fill="#b9d65c"/><text x="424" y="566.5">N</text>
<ellipse cx="460" cy="498" rx="11" ry="22" fill="#f6f95f"/><text x="460" y="501.5">O</text>
<ellipse cx="463" cy="608" rx="11" ry="22" fill="#d8e45c"/><text x="463" y="611.5">O</text>
<ellipse cx="335" cy="692" rx="11" ry="22" fill="#92c063"/><text x="335" y="695.5">C</text>
<ellipse cx="289" cy="750" rx="11" ry="22" fill="#62a064"/><text x="289" y="753.5">C</text>
<ellipse cx="236" cy="735" rx="11" ry="22" fill="#62a064"/><text x="236" y="738.5">C</text>
<ellipse cx="178" cy="786" rx="11" ry="22" fill="#62a064"/><text x="178" y="789.5">C</text>
<ellipse cx="152" cy="675" rx="11" ry="22" fill="#4c8860"/><text x="152" y="678.5">C</text>
<ellipse cx="103" cy="733" rx="11" ry="22" fill="#92c063"/><text x="103" y="736.5">C</text>
<ellipse cx="73" cy="826" rx="11" ry="22" fill="#4c8860"/><text x="73" y="829.5">C</text>
<ellipse cx="136" cy="886" rx="11" ry="22" fill="#62a064"/><text x="136" y="889.5">C</text>
<ellipse cx="93" cy="917" rx="11" ry="22" fill="#4c8860"/><text x="93" y="920.5">C</text>

<ellipse cx="926" cy="325" rx="11" ry="22" fill="#f3f55f"/><text x="926" y="328.5">O</text>
<ellipse cx="946" cy="397" rx="11" ry="22" fill="#c8dd5e"/><text x="946" y="400.5">O</text>
<ellipse cx="908" cy="403" rx="11" ry="22" fill="#fbfb60"/><text x="908" y="406.5">N</text>
<ellipse cx="862" cy="476" rx="11" ry="22" fill="#4c8860"/><text x="862" y="479.5">C</text>
<ellipse cx="813" cy="508" rx="11" ry="22" fill="#62a064"/><text x="813" y="511.5">C</text>
<ellipse cx="847" cy="568" rx="11" ry="22" fill="#92c063"/><text x="847" y="571.5">C</text>
<ellipse cx="766" cy="577" rx="11" ry="22" fill="#62a064"/><text x="766" y="580.5">C</text>
<ellipse cx="812" cy="636" rx="11" ry="22" fill="#4c8860"/><text x="812" y="639.5">C</text>
<ellipse cx="720" cy="618" rx="11" ry="22" fill="#92c063"/><text x="720" y="621.5">C</text>
<ellipse cx="765" cy="670" rx="11" ry="22" fill="#62a064"/><text x="765" y="673.5">C</text>
<ellipse cx="684" cy="695" rx="11" ry="22" fill="#62a064"/><text x="684" y="698.5">C</text>
<ellipse cx="716" cy="741" rx="11" ry="22" fill="#7cae62"/><text x="716" y="744.5">C</text>
<ellipse cx="640" cy="754" rx="11" ry="22" fill="#92c063"/><text x="640" y="757.5">C</text>
<ellipse cx="612" cy="834" rx="11" ry="22" fill="#92c063"/><text x="612" y="837.5">C</text>
<ellipse cx="685" cy="826" rx="11" ry="22" fill="#62a064"/><text x="685" y="829.5">C</text>
<ellipse cx="646" cy="867" rx="11" ry="22" fill="#62a064"/><text x="646" y="870.5">C</text>
<ellipse cx="576" cy="877" rx="11" ry="22" fill="#62a064"/><text x="576" y="880.5">C</text>

<ellipse cx="1314" cy="260" rx="11" ry="22" fill="#b0cc5e"/><text x="1314" y="263.5">O</text>
<ellipse cx="1340" cy="263" rx="11" ry="22" fill="#b0cc5e"/><text x="1340" y="266.5">O</text>
<ellipse cx="1325" cy="342" rx="11" ry="22" fill="#c8de5e"/><text x="1325" y="345.5">N</text>
<ellipse cx="1323" cy="473" rx="11" ry="22" fill="#92c063"/><text x="1323" y="476.5">C</text>
<ellipse cx="1362" cy="514" rx="11" ry="22" fill="#7cae62"/><text x="1362" y="517.5">C</text>
<ellipse cx="1396" cy="577" rx="11" ry="22" fill="#62a064"/><text x="1396" y="580.5">C</text>
<ellipse cx="1440" cy="600" rx="11" ry="22" fill="#c0d85e"/><text x="1440" y="603.5">N</text>
<ellipse cx="1469" cy="573" rx="11" ry="22" fill="#a8c85e"/><text x="1469" y="576.5">O</text>
<ellipse cx="1465" cy="652" rx="11" ry="22" fill="#88b060"/><text x="1465" y="655.5">O</text>
<ellipse cx="1287" cy="575" rx="11" ry="22" fill="#4c8860"/><text x="1287" y="578.5">C</text>
<ellipse cx="1324" cy="612" rx="11" ry="22" fill="#62a064"/><text x="1324" y="615.5">C</text>
<ellipse cx="1362" cy="615" rx="11" ry="22" fill="#62a064"/><text x="1362" y="618.5">C</text>
<ellipse cx="1235" cy="638" rx="11" ry="22" fill="#62a064"/><text x="1235" y="641.5">C</text>
<ellipse cx="1193" cy="646" rx="11" ry="22" fill="#4c8860"/><text x="1193" y="649.5">C</text>
<ellipse cx="1157" cy="687" rx="11" ry="22" fill="#4c8860"/><text x="1157" y="690.5">C</text>
<ellipse cx="1203" cy="713" rx="11" ry="22" fill="#62a064"/><text x="1203" y="716.5">C</text>
<ellipse cx="1130" cy="758" rx="11" ry="22" fill="#62a064"/><text x="1130" y="761.5">C</text>
<ellipse cx="1165" cy="757" rx="11" ry="22" fill="#62a064"/><text x="1165" y="760.5">C</text>
<ellipse cx="1089" cy="805" rx="11" ry="22" fill="#4c8860"/><text x="1089" y="808.5">N</text>
<ellipse cx="1060" cy="795" rx="11" ry="22" fill="#fbfb60"/><text x="1060" y="798.5">O</text>
<ellipse cx="1069" cy="870" rx="11" ry="22" fill="#fbfb60"/><text x="1069" y="873.5">O</text>
</g>
</g>

<!-- SUB-LINEAR FIGURES -->
<g transform="translate(1400,2080) scale(0.7974,0.3333)">
<path d="M152 188L175 600L202 765L252 770L356 747L563 778L563 845L356 828L252 840L202 866L175 870L163 878Z" fill="#eed2d2"/>
<rect x="131" y="155" width="452" height="772" fill="none" stroke="#333" stroke-width="1.5"/>
<path d="M253 155L253 927" stroke="#888" stroke-width="2" fill="none"/>
<path d="M150 188L563 188" stroke="#8ba6e0" stroke-width="3.5" fill="none"/>
<path d="M152 188L162 640L176 745L202 816L252 805L356 787L563 812" stroke="#c9645a" stroke-width="3" fill="none"/>
<path d="M150 927v10M230 927v10M311 927v10M391 927v10M472 927v10M553 927v10M131 188h-8M131 312h-8M131 435h-8M131 558h-8M131 681h-8M131 804h-8M131 927h-8" stroke="#333" stroke-width="1.3" fill="none"/>
<rect x="290" y="365" width="273" height="290" rx="4" fill="#fff" fill-opacity=".9" stroke="#ddd" stroke-width="1.2"/>
<path d="M297 443H345" stroke="#8ba6e0" stroke-width="3.5"/><path d="M297 581H345" stroke="#c9645a" stroke-width="3.5"/>
<use href="#ring"/>
<use href="#ring" y="555"/>
<g transform="translate(0,555)"><path d="M702 152L750 200M699 200L750 200M699 200L744 246M622 374L674 376M628 330L670 423M628 330L674 376" stroke="#999" stroke-width="1.4" fill="none"/>
<g fill="#c9645a"><ellipse cx="702" cy="152" rx="5" ry="11"/><ellipse cx="699" cy="200" rx="5" ry="11"/><ellipse cx="750" cy="200" rx="5" ry="11"/><ellipse cx="744" cy="246" rx="5" ry="11"/><ellipse cx="628" cy="330" rx="5" ry="11"/><ellipse cx="622" cy="374" rx="5" ry="11"/><ellipse cx="674" cy="376" rx="5" ry="11"/><ellipse cx="670" cy="423" rx="5" ry="11"/></g></g>
<!-- heatmap -->
<g class="hm">
<rect x="870" y="125" width="66" height="157" fill="#c0deb8"/><rect x="935.7" y="125" width="66" height="157" fill="#f0f8b9"/><rect x="1001.3" y="125" width="66" height="157" fill="#f6fbc4"/><rect x="1067" y="125" width="66" height="157" fill="#fdfed6"/><rect x="1132.7" y="125" width="66" height="157" fill="#f8fcc8"/><rect x="1198.3" y="125" width="66" height="157" fill="#f4f9c0"/><rect x="1264" y="125" width="66" height="157" fill="#f4f9c0"/><rect x="1329.7" y="125" width="66" height="157" fill="#f4f9c0"/><rect x="1395.3" y="125" width="66" height="157" fill="#edf6b4"/>
<rect x="870" y="281.6" width="66" height="157" fill="#8abec2"/><rect x="935.7" y="281.6" width="66" height="157" fill="#d4e9b7"/><rect x="1001.3" y="281.6" width="66" height="157" fill="#f5fac2"/><rect x="1067" y="281.6" width="66" height="157" fill="#f7fbc5"/><rect x="1132.7" y="281.6" width="66" height="157" fill="#f6fbc4"/><rect x="1198.3" y="281.6" width="66" height="157" fill="#f4f9bf"/><rect x="1264" y="281.6" width="66" height="157" fill="#f2f8bb"/><rect x="1329.7" y="281.6" width="66" height="157" fill="#f2f8bb"/><rect x="1395.3" y="281.6" width="66" height="157" fill="#e9f3ae"/>
<rect x="870" y="438.2" width="66" height="157" fill="#5689bc"/><rect x="935.7" y="438.2" width="66" height="157" fill="#9fcfbc"/><rect x="1001.3" y="438.2" width="66" height="157" fill="#deedb2"/><rect x="1067" y="438.2" width="66" height="157" fill="#f1f7ba"/><rect x="1132.7" y="438.2" width="66" height="157" fill="#f6fbc4"/><rect x="1198.3" y="438.2" width="66" height="157" fill="#f6fbc4"/><rect x="1264" y="438.2" width="66" height="157" fill="#f6fbc4"/><rect x="1329.7" y="438.2" width="66" height="157" fill="#fcfdd2"/><rect x="1395.3" y="438.2" width="66" height="157" fill="#fdfed3"/>
<rect x="870" y="594.8" width="66" height="157" fill="#3c50a0"/><rect x="935.7" y="594.8" width="66" height="157" fill="#78b5c4"/><rect x="1001.3" y="594.8" width="66" height="157" fill="#cde5b5"/><rect x="1067" y="594.8" width="66" height="157" fill="#f1f7ba"/><rect x="1132.7" y="594.8" width="66" height="157" fill="#f6fbc4"/><rect x="1198.3" y="594.8" width="66" height="157" fill="#f6fbc4"/><rect x="1264" y="594.8" width="66" height="157" fill="#f6fbc4"/><rect x="1329.7" y="594.8" width="66" height="157" fill="#f5f9c0"/><rect x="1395.3" y="594.8" width="66" height="157" fill="#f0f6b8"/>
<rect x="870" y="751.4" width="66" height="157" fill="#313f98"/><rect x="935.7" y="751.4" width="66" height="157" fill="#5086bb"/><rect x="1001.3" y="751.4" width="66" height="157" fill="#b9dbb7"/><rect x="1067" y="751.4" width="66" height="157" fill="#ebf4ae"/><rect x="1132.7" y="751.4" width="66" height="157" fill="#f6fbc4"/><rect x="1198.3" y="751.4" width="66" height="157" fill="#f6fbc4"/><rect x="1264" y="751.4" width="66" height="157" fill="#f6fbc4"/><rect x="1329.7" y="751.4" width="66" height="157" fill="#f6fbc4"/><rect x="1395.3" y="751.4" width="66" height="157" fill="#fbfdd0"/>
<path d="M1067 125H1198.3V281.6M1132.7 125V281.6H1264V438.2M1198.3 281.6V438.2H1329.7V594.8M1264 438.2V594.8H1395.3V751.4M1329.7 594.8V751.4H1461V908H1329.7M1395.3 751.4V908" fill="none" stroke="#777" stroke-width="3"/>
<path d="M870 125H1067V281.6H870M935.7 125V908M1001.3 125V908M1067 281.6V908M870 281.6V908M1067 281.6H1132.7V438.2H870M1132.7 438.2V908M1132.7 438.2H1198.3V594.8H870M1198.3 594.8V908M1198.3 594.8H1264V751.4H870M1264 751.4V908M1264 751.4H1329.7V908H870" fill="none" stroke="#000" stroke-width="3"/>
<path d="M903 908v10M968.5 908v10M1034 908v10M1100 908v10M1165.5 908v10M1231 908v10M1297 908v10M1362.5 908v10M1428 908v10M870 203h-6M870 360h-6M870 516.5h-6M870 673h-6M870 830h-6" stroke="#333" stroke-width="1.3" fill="none"/>
<text x="903" y="209">75</text><text x="968.5" y="209">78</text><text x="1034" y="209">79</text><text x="1100" y="209">80</text><text x="1165.5" y="209">79</text><text x="1231" y="209">79</text><text x="1297" y="209">79</text><text x="1362.5" y="209">79</text><text x="1428" y="209">78</text>
<text x="903" y="366">72</text><text x="968.5" y="366">76</text><text x="1034" y="366">79</text><text x="1100" y="366">79</text><text x="1165.5" y="366">79</text><text x="1231" y="366">79</text><text x="1297" y="366">79</text><text x="1362.5" y="366">79</text><text x="1428" y="366">78</text>
<text x="903" y="522.5">69</text><text x="968.5" y="522.5">74</text><text x="1034" y="522.5">77</text><text x="1100" y="522.5">78</text><text x="1165.5" y="522.5">79</text><text x="1231" y="522.5">79</text><text x="1297" y="522.5">79</text><text x="1362.5" y="522.5">80</text><text x="1428" y="522.5">80</text>
<text x="903" y="679">66</text><text x="968.5" y="679">71</text><text x="1034" y="679">76</text><text x="1100" y="679">78</text><text x="1165.5" y="679">79</text><text x="1231" y="679">79</text><text x="1297" y="679">79</text><text x="1362.5" y="679">79</text><text x="1428" y="679">79</text>
<text x="903" y="836">66</text><text x="968.5" y="836">69</text><text x="1034" y="836">75</text><text x="1100" y="836">78</text><text x="1165.5" y="836">79</text><text x="1231" y="836">79</text><text x="1297" y="836">79</text><text x="1362.5" y="836">79</text><text x="1428" y="836">80</text>
</g>
</g>

<!-- plot text real coords -->
<g class="pl">
<g text-anchor="end"><text x="1498" y="2149">1.0</text><text x="1498" y="2191">0.9</text><text x="1498" y="2232">0.8</text><text x="1498" y="2273">0.7</text><text x="1498" y="2314">0.6</text><text x="1498" y="2355">0.5</text><text x="1498" y="2396">0.4</text></g>
<g text-anchor="middle"><text x="1520" y="2408">0</text><text x="1583" y="2408">200</text><text x="1648" y="2408">400</text><text x="1712" y="2408">600</text><text x="1776" y="2408">800</text><text x="1841" y="2408">1000</text></g>
<text x="1685" y="2429" text-anchor="middle" style="font-size:15px">Graph size</text>
<text transform="translate(1463,2260) rotate(-90)" text-anchor="middle" style="font-size:15px" textLength="80" lengthAdjust="spacingAndGlyphs">Accuracy</text>
<text x="1689" y="2222" style="font-size:15px" textLength="152" lengthAdjust="spacingAndGlyphs">Constant fraction</text>
<text x="1689" y="2242" style="font-size:15px" textLength="115" lengthAdjust="spacingAndGlyphs">of subgraphs</text>
<text x="1689" y="2268" style="font-size:15px" textLength="154" lengthAdjust="spacingAndGlyphs">Constant number</text>
<text x="1689" y="2288" style="font-size:15px" textLength="115" lengthAdjust="spacingAndGlyphs">of subgraphs</text>
<g text-anchor="middle"><text x="2120" y="2405">2</text><text x="2172" y="2405">4</text><text x="2225" y="2405">8</text><text x="2277" y="2405">16</text><text x="2329" y="2405">32</text><text x="2382" y="2405">64</text><text x="2434" y="2405">128</text><text x="2486" y="2405">256</text><text x="2539" y="2405">512</text></g>
<text x="2329" y="2427" text-anchor="middle" style="font-size:16px" textLength="164" lengthAdjust="spacingAndGlyphs">Number of agents</text>
<g text-anchor="end"><text x="2084" y="2154">32</text><text x="2084" y="2206">16</text><text x="2084" y="2258">8</text><text x="2084" y="2311">4</text><text x="2084" y="2363">2</text></g>
<text transform="translate(2055,2252) rotate(-90)" text-anchor="middle" style="font-size:15px" textLength="151" lengthAdjust="spacingAndGlyphs">Number of steps</text>
</g>
<g class="cap"><text x="1656" y="2477">(a)</text><text x="1947" y="2270">(b)</text><text x="1947" y="2477">(c)</text><text x="2301" y="2477">(d)</text></g>
</svg>
</div></body></html>
